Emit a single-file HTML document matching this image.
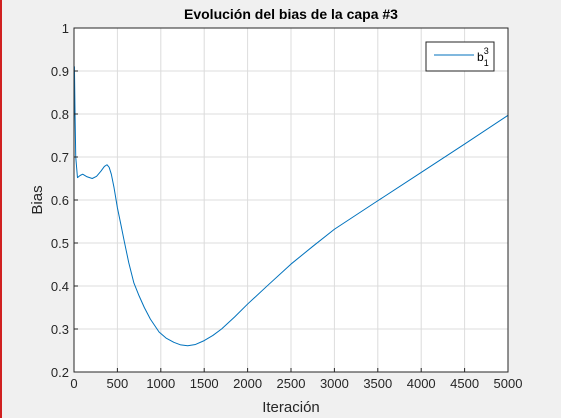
<!DOCTYPE html>
<html><head><meta charset="utf-8"><style>
html,body{margin:0;padding:0;background:#f0f0f0;}
svg{display:block;font-family:"Liberation Sans",Arial,sans-serif;}
</style></head><body>
<svg id="chart" width="561" height="418" viewBox="0 0 561 418">
<rect x="0" y="0" width="561" height="418" fill="#f0f0f0"/>
<rect x="0" y="0" width="2" height="418" fill="#d02020"/>
<rect x="74" y="28" width="434" height="344" fill="#fff"/>
<g id="grid"></g>
<g id="series"></g>
<rect x="74" y="28" width="434" height="344" fill="none" stroke="#262626" stroke-width="1"/>
<g id="ticks"></g>
<text x="291" y="19" text-anchor="middle" font-size="14" font-weight="bold" fill="#000">Evolución del bias de la capa #3</text>
<text x="291" y="412" text-anchor="middle" font-size="15" fill="#262626">Iteración</text>
<text x="0" y="0" transform="translate(42,200) rotate(-90)" text-anchor="middle" font-size="15" fill="#262626">Bias</text>
<g>
<rect x="426" y="42" width="68" height="29" fill="#fff" stroke="#262626" stroke-width="1"/>
<line x1="434" y1="55" x2="474" y2="55" stroke="#0072bd" stroke-width="1"/>
<text x="477" y="61" font-size="12" fill="#000">b<tspan font-size="9" dy="-7" dx="0">3</tspan><tspan font-size="9" dx="-5" dy="12">1</tspan></text>
</g>
</svg>
<script>
const xTicks=[0,500,1000,1500,2000,2500,3000,3500,4000,4500,5000];
const yTicks=[0.2,0.3,0.4,0.5,0.6,0.7,0.8,0.9,1];
const iterations=[0,5,12,20,40,70,100,150,210,260,310,350,380,405,430,460,500,540,580,630,690,750,810,880,980,1060,1150,1230,1310,1400,1500,1600,1700,1850,2000,2230,2500,2750,3000,3460,4000,4500,5000];
const biasValues=[0.78,0.91,0.80,0.70,0.652,0.657,0.660,0.654,0.650,0.655,0.667,0.678,0.682,0.676,0.660,0.630,0.582,0.543,0.503,0.455,0.407,0.377,0.350,0.323,0.293,0.279,0.269,0.263,0.261,0.264,0.273,0.285,0.300,0.328,0.358,0.401,0.451,0.492,0.532,0.593,0.664,0.730,0.797];
const X0=74,X1=508,Y0=372,Y1=28;
const xs=v=>X0+(v-0)/(5000-0)*(X1-X0);
const ys=v=>Y0-(v-0.2)/(1-0.2)*(Y0-Y1);
const NS="http://www.w3.org/2000/svg";
const grid=document.getElementById('grid'),ticks=document.getElementById('ticks'),ser=document.getElementById('series');
function mk(t,a,p){const e=document.createElementNS(NS,t);for(const k in a)e.setAttribute(k,a[k]);p.appendChild(e);return e;}
xTicks.forEach(v=>{const x=xs(v);
 const g=mk('line',{x1:x,y1:Y1,x2:x,y2:Y0,stroke:'#dcdcdc','stroke-width':1},grid);
 
 
 const tk=mk('line',{x1:x,y1:Y0,x2:x,y2:Y0-4,stroke:'#262626'},ticks);
 
 
 const t=mk('text',{x:x,y:Y0+16,'text-anchor':'middle','font-size':13,fill:'#262626'},ticks);t.textContent=v;
 
 });
yTicks.forEach(v=>{const y=ys(v);
 const g=mk('line',{x1:X0,y1:y,x2:X1,y2:y,stroke:'#dcdcdc','stroke-width':1},grid);
 
 
 const tk=mk('line',{x1:X0,y1:y,x2:X0+4,y2:y,stroke:'#262626'},ticks);
 
 
 const t=mk('text',{x:X0-5,y:y+5,'text-anchor':'end','font-size':13,fill:'#262626'},ticks);t.textContent=(v===1?'1':v.toFixed(1));
 
 });
const pts=iterations.map((v,i)=>xs(v).toFixed(2)+','+ys(biasValues[i]).toFixed(2)).join(' ');
const pl=mk('polyline',{points:pts,fill:'none',stroke:'#0072bd','stroke-width':1,'stroke-linejoin':'round'},ser);


</script>
</body></html>
